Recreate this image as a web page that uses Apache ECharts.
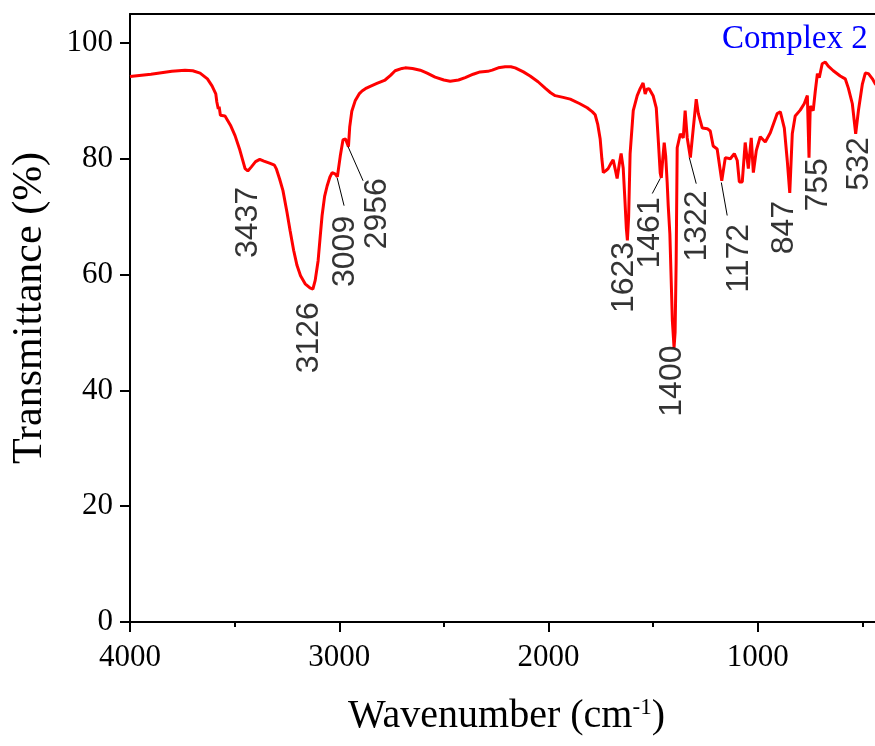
<!DOCTYPE html>
<html>
<head>
<meta charset="utf-8">
<script src="https://cdn.jsdelivr.net/npm/echarts@6/dist/echarts.min.js"></script>
<style>
html,body{margin:0;padding:0;background:#fff;}
#chart{width:875px;height:746px;}
</style>
</head>
<body>
<div id="chart"></div>
<script>
// Spectrum: wavenumber (cm-1) and transmittance (%)
const wavenumber = [
 4000,3900,3800,3737,3700,3665,3630,3608,3590,3585,3578,3574,3568,3546,3520,3498,3475,3450,3437,3420,
 3400,3380,3360,3330,3310,3300,3285,3269,3250,3235,3218,3202,3185,3163,3140,3126,3115,3101,3090,3082,
 3070,3058,3045,3034,3020,3009,2995,2982,2970,2956,2950,2940,2924,2905,2891,2870,2852,2820,2781,2755,
 2733,2700,2685,2650,2613,2580,2542,2500,2470,2430,2398,2360,2327,2290,2269,2240,2207,2180,2159,2120,
 2088,2050,2016,1990,1968,1930,1896,1850,1815,1790,1777,1765,1753,1745,1738,1727,1715,1700,1691,1680,
 1672,1662,1653,1643,1635,1628,1623,1617,1610,1595,1576,1562,1548,1538,1530,1519,1500,1485,1476,1466,
 1461,1454,1447,1440,1433,1428,1420,1408,1400,1395,1390,1385,1370,1356,1347,1337,1322,1308,1294,1284,
 1265,1241,1227,1213,1194,1172,1155,1131,1112,1098,1088,1074,1060,1045,1031,1021,1007,988,964,940,
 907,892,873,859,847,835,821,797,778,763,755,749,735,725,715,706,692,677,663,639,
 606,582,567,548,532,519,500,486,471,452,438,400
];
const transmittance = [
 94.2,94.6,95.1,95.3,95.2,94.8,93.8,92.6,91.2,89.8,88.6,89.0,87.5,87.4,85.8,84.0,81.5,78.3,77.9,78.6,
 79.5,79.9,79.6,79.2,78.9,78.2,76.5,74.5,70.8,67.6,64.2,61.6,59.8,58.4,57.7,57.5,59.0,62.4,67.0,70.2,
 73.5,75.3,76.8,77.6,77.4,76.9,80.5,83.3,83.4,82.1,85.5,88.2,90.0,91.2,91.7,92.2,92.5,93.0,93.6,94.4,
 95.2,95.6,95.7,95.6,95.3,94.8,94.1,93.6,93.4,93.6,94.0,94.6,95.0,95.1,95.3,95.7,95.9,95.9,95.7,95.0,
 94.3,93.3,92.2,91.4,90.9,90.6,90.3,89.5,88.8,88.1,87.6,86.0,83.4,80.0,77.6,77.9,78.3,79.3,79.8,78.0,
 76.6,79.0,80.9,78.4,73.0,68.0,65.9,70.0,80.9,88.3,90.9,92.1,93.1,91.2,92.0,92.1,90.9,88.8,83.6,77.5,
 76.7,80.0,82.8,80.5,76.0,72.0,67.0,52.0,47.4,50.0,62.0,81.9,84.3,83.6,88.3,83.6,80.2,85.3,90.3,87.8,
 85.3,85.2,84.8,82.2,81.7,76.2,80.2,80.0,80.9,79.7,76.0,76.0,82.8,78.3,83.6,77.6,81.4,83.8,82.9,84.5,
 87.8,88.1,85.3,79.7,74.1,84.3,87.4,88.4,89.5,90.9,80.2,89.1,88.3,91.7,94.7,94.0,96.4,96.7,96.0,95.2,
 94.3,93.8,92.2,89.5,84.3,88.3,92.9,94.8,94.7,93.8,92.9,92.3
];

// Peak annotations: label text, label centre (wavenumber, transmittance)
const peakLabels = ['3437','3126','3009','2956','1623','1461','1400','1322','1172','847','755','532'];
const peakLabelX = [3436,3144,2972,2819,1638,1514,1409,1289,1088,873,711,515];
const peakLabelY = [69.0,49.1,64.0,70.5,59.5,67.2,41.6,68.4,62.8,68.1,75.5,79.1];

// Leader lines: [from wavenumber, from T, to wavenumber, to T]
const leaderFromX = [3010,2958,1466,1327,1174];
const leaderFromY = [76.7,82.1,76.6,80.2,75.9];
const leaderToX   = [2977,2886,1504,1294,1146];
const leaderToY   = [71.9,76.2,74.0,75.7,70.2];

const yMajorTicks = [0,20,40,60,80,100];
const yMinorTicks = [10,30,50,70,90];

const chart = echarts.init(document.getElementById('chart'), null, {renderer:'canvas'});

const serif = 'Liberation Serif';
const sans = 'Liberation Sans';

const option = {
  animation: false,
  backgroundColor: '#ffffff',
  title: {
    text: 'Complex 2',
    left: 722, top: 23, padding: 0,
    textStyle: {color:'#0000ff', fontFamily: serif, fontSize: 33, fontWeight: 'normal'}
  },
  grid: {left: 130, top: 14, width: 837, height: 608, containLabel: false, outerBoundsMode: 'none'},
  xAxis: [{
    type: 'value', min: 0, max: 4000, interval: 1000, inverse: true, position: 'bottom',
    axisLine: {show: true, onZero: false, lineStyle: {color:'#000', width: 2}},
    axisTick: {show: true, length: 10, lineStyle: {color:'#000', width: 2}},
    minorTick: {show: true, splitNumber: 2, length: 5, lineStyle: {color:'#000', width: 2}},
    splitLine: {show: false},
    axisLabel: {color:'#000', fontFamily: serif, fontSize: 31, margin: 20, formatter: v => String(v)},
    name: '{a|Wavenumber (cm}{s|-1}{a|)}',
    nameLocation: 'middle', nameGap: 74,
    nameTextStyle: {
      padding: [0, 84, 0, 0],
      rich: {
        a: {fontFamily: serif, fontSize: 40, color:'#000'},
        s: {fontFamily: serif, fontSize: 23, color:'#000', verticalAlign: 'top'}
      }
    }
  },{
    type: 'value', min: 0, max: 4000, inverse: true, position: 'top',
    axisLine: {show: true, onZero: false, lineStyle: {color:'#000', width: 2}},
    axisTick: {show: false}, axisLabel: {show: false}, splitLine: {show: false}
  }],
  yAxis: [{
    type: 'value', min: 0, max: 105, position: 'left',
    axisLine: {show: true, onZero: false, lineStyle: {color:'#000', width: 2}},
    axisTick: {show: true, length: 10, customValues: yMajorTicks, lineStyle: {color:'#000', width: 2}},
    axisLabel: {color:'#000', fontFamily: serif, fontSize: 31, margin: 17, customValues: yMajorTicks},
    splitLine: {show: false},
    name: 'Transmittance (%)', nameLocation: 'middle', nameGap: 79, nameRotate: 90,
    nameTextStyle: {fontFamily: serif, fontSize: 42, color:'#000', padding: [0, 0, 0, 20]}
  },{
    type: 'value', min: 0, max: 105, position: 'right', offset: -837,
    axisLine: {show: false},
    axisTick: {show: true, inside: true, length: 5, customValues: yMinorTicks, lineStyle: {color:'#000', width: 2}},
    axisLabel: {show: false}, splitLine: {show: false}
  }],
  series: [{
    type: 'line', xAxisIndex: 0, yAxisIndex: 0,
    data: wavenumber.map((w, i) => [w, transmittance[i]]),
    showSymbol: false, symbol: 'none', smooth: false,
    lineStyle: {color:'#ff0000', width: 3}, z: 3
  },{
    type: 'lines', coordinateSystem: 'cartesian2d', xAxisIndex: 0, yAxisIndex: 0,
    data: leaderFromX.map((x, i) => ({coords: [[x, leaderFromY[i]], [leaderToX[i], leaderToY[i]]]})),
    lineStyle: {color:'#000', width: 1, opacity: 1}, z: 4
  },{
    type: 'scatter', xAxisIndex: 0, yAxisIndex: 0,
    symbolSize: 0,
    data: peakLabels.map((t, i) => ({name: t, value: [peakLabelX[i], peakLabelY[i]]})),
    label: {
      show: true, position: 'inside', rotate: 90,
      formatter: p => p.name,
      color:'#000000', fontFamily: sans, fontSize: 32
    },
    z: 5
  }]
};
chart.setOption(option);
</script>
</body>
</html>
